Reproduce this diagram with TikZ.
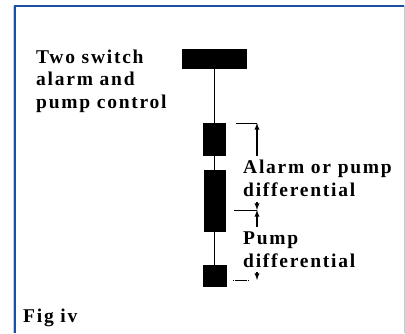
\documentclass[tikz,border=0pt]{standalone}
\usepackage{fontspec}
\setmainfont{Liberation Serif}[LetterSpace=9]
\usetikzlibrary{calc, arrows}
\definecolor{frameblue}{RGB}{25,80,165}
\definecolor{framegrey}{RGB}{200,202,212}

\begin{document}
\begin{tikzpicture}[x=1pt, y=-1pt,
  floatbox/.style={fill=black, draw=none, inner sep=0pt},
  caption/.style={font=\bfseries\fontsize{19.5}{22.5}\selectfont, inner sep=0pt, anchor=base west, align=left},
  dimline/.style={line width=0.8pt},
  dimarrow/.style={-latex, line width=1.3pt}]

\useasboundingbox (0,0) rectangle (405,333);
% frame, open at the bottom
\draw[framegrey, line width=0.8pt] (404,5) -- (404,333);
\draw[framegrey, line width=0.8pt] (13,6) -- (13,333);
\draw[frameblue, line width=1.8pt] (15,333) -- (15,6) -- (404,6);

% switch head and the three floats
\node[floatbox, minimum width=65pt, minimum height=20pt] (switchbox) at (214.5,59) {};
\node[floatbox, minimum width=23pt, minimum height=33pt] (upperfloat) at (214.5,139.5) {};
\node[floatbox, minimum width=22pt, minimum height=62pt] (middlefloat) at (214.5,201) {};
\node[floatbox, minimum width=24pt, minimum height=22pt] (lowerfloat) at (214.5,276) {};
\draw[thin] (switchbox) -- (upperfloat) -- (middlefloat) -- (lowerfloat);

% levels and differentials
\coordinate (upperlevel) at (236,123);
\coordinate (uppertip) at (257,123);
\coordinate (upperfoot) at (257,156);
\coordinate (midlevel) at (234,210);
\coordinate (midtip) at (257,210);
\coordinate (midtop) at (257,202);
\coordinate (midfoot) at (257,227);
\coordinate (lowlevel) at (233,280);
\coordinate (lowtip) at (257,280);
\coordinate (lowtop) at (257,272);
\draw[dimline] (upperlevel) -- (uppertip);
\draw[dimarrow] (upperfoot) -- (uppertip);
\draw[dimline] (midlevel) -- (midtip);
\draw[dimarrow] (midtop) -- (midtip);
\draw[dimarrow] (midfoot) -- (midtip);
\draw[dimline, dash pattern=on 1pt off 1pt on 12pt] (lowlevel) -- (lowtip);
\draw[dimarrow] (lowtop) -- (lowtip);

% labels (base is the last line)
\node[caption] (controllabel) at (36,108) {Two switch\\alarm and\\pump control};
\node[caption] (difflabel) at (243,196) {Alarm or pump\\differential};
\node[caption] (pumplabel) at (243,267) {Pump\\differential};
\node[caption] (figlabel) at (23,322) {Fig iv};

\end{tikzpicture}
\end{document}
